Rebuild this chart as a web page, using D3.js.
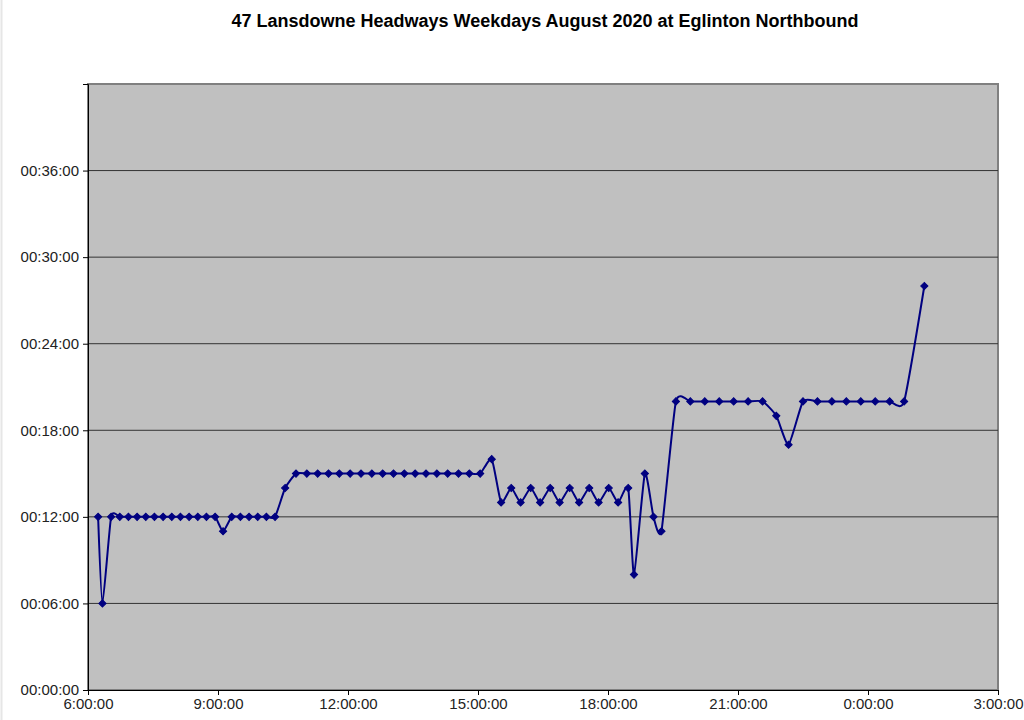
<!DOCTYPE html>
<html>
<head>
<meta charset="utf-8">
<script src="https://cdn.jsdelivr.net/npm/d3@7"></script>
<style>
  html, body { margin: 0; padding: 0; background: #fff; }
  svg { display: block; }
</style>
</head>
<body>
<svg id="chart" width="1024" height="720"></svg>
<script>
// ---- data ----
const chartTitle = "47 Lansdowne Headways Weekdays August 2020 at Eglinton Northbound";

const departureTimes = [
  "6:14","6:20","6:32","6:44","6:56","7:08","7:20","7:32","7:44","7:56","8:08","8:20","8:32","8:44","8:56",
  "9:07","9:19","9:31","9:43","9:55","10:07","10:19","10:33",
  "10:48","11:03","11:18","11:33","11:48","12:03","12:18","12:33","12:48","13:03","13:18","13:33","13:48",
  "14:03","14:18","14:33","14:48","15:03","15:19",
  "15:32","15:46","15:59","16:13","16:26","16:40","16:53","17:07","17:20","17:34","17:47","18:01","18:14","18:28",
  "18:36","18:51","19:03","19:14",
  "19:34","19:54","20:14","20:34","20:54","21:14","21:34","21:53","22:10",
  "22:30","22:50","23:10","23:30","23:50","0:10","0:30","0:50","1:18"
];

const headwayMinutes = [
  12,6,12,12,12,12,12,12,12,12,12,12,12,12,12,
  11,12,12,12,12,12,12,14,
  15,15,15,15,15,15,15,15,15,15,15,15,15,
  15,15,15,15,15,16,
  13,14,13,14,13,14,13,14,13,14,13,14,13,14,
  8,15,12,11,
  20,20,20,20,20,20,20,19,17,
  20,20,20,20,20,20,20,20,28
];

const xTickMinutes = [360, 540, 720, 900, 1080, 1260, 1440, 1620];
const xTickLabels = ["6:00:00","9:00:00","12:00:00","15:00:00","18:00:00","21:00:00","0:00:00","3:00:00"];
const yTickMinutes = [0, 6, 12, 18, 24, 30, 36];
const yTickLabels = ["00:00:00","00:06:00","00:12:00","00:18:00","00:24:00","00:30:00","00:36:00"];

// ---- helpers ----
function toMinutes(t) {
  const [h, m] = t.split(":").map(Number);
  return (h < 6 ? h + 24 : h) * 60 + m;
}
const points = departureTimes.map((t, i) => ({ x: toMinutes(t), y: headwayMinutes[i] }));

// ---- layout ----
const svg = d3.select("#chart");
const plot = { left: 88, right: 998, top: 84, bottom: 690 };
const font = "Liberation Sans, Arial, sans-serif";

const x = d3.scaleLinear().domain([360, 1620]).range([plot.left, plot.right]);
const y = d3.scaleLinear().domain([0, 42]).range([plot.bottom, plot.top]);

// faint outer chart border
svg.append("line").attr("x1", 1.5).attr("x2", 1.5).attr("y1", 0).attr("y2", 720)
  .attr("stroke", "#e6e6e6").attr("stroke-width", 2);

// title
svg.append("text")
  .attr("x", 545).attr("y", 27)
  .attr("text-anchor", "middle")
  .attr("font-family", font)
  .attr("font-weight", "bold")
  .attr("font-size", 18)
  .attr("fill", "#000")
  .text(chartTitle);

// plot background
svg.append("rect")
  .attr("x", plot.left).attr("y", plot.top)
  .attr("width", plot.right - plot.left).attr("height", plot.bottom - plot.top)
  .attr("fill", "#c0c0c0")
  .attr("stroke", "#808080").attr("stroke-width", 2);

// gridlines
svg.append("g")
  .selectAll("line")
  .data(yTickMinutes.filter(v => v > 0))
  .join("line")
  .attr("x1", plot.left).attr("x2", plot.right)
  .attr("y1", d => y(d)).attr("y2", d => y(d))
  .attr("stroke", "#333").attr("stroke-width", 1);

// axes
const yAxis = d3.axisLeft(y)
  .tickValues(yTickMinutes)
  .tickFormat((d, i) => yTickLabels[i])
  .tickSize(5).tickPadding(4);
const yg = svg.append("g").attr("transform", `translate(${plot.left},0)`).call(yAxis);
yg.select(".domain").attr("stroke", "#000");
yg.selectAll(".tick line").attr("stroke", "#000");
yg.selectAll("text")
  .attr("font-family", font)
  .attr("font-size", 15).attr("fill", "#222");

const xAxis = d3.axisBottom(x)
  .tickValues(xTickMinutes)
  .tickFormat((d, i) => xTickLabels[i])
  .tickSize(5).tickPadding(3);
const xg = svg.append("g").attr("transform", `translate(0,${plot.bottom})`).call(xAxis);
xg.select(".domain").attr("stroke", "#000");
xg.selectAll(".tick line").attr("stroke", "#000");
xg.selectAll("text")
  .attr("font-family", font)
  .attr("font-size", 15).attr("fill", "#222");

// line (smoothed, like a spreadsheet "smoothed line")
const line = d3.line()
  .x(d => x(d.x)).y(d => y(d.y))
  .curve(d3.curveCardinal.tension(0.45));

svg.append("path")
  .datum(points)
  .attr("d", line)
  .attr("fill", "none")
  .attr("stroke", "#000080")
  .attr("stroke-width", 2);

// diamond markers
svg.append("g")
  .selectAll("path")
  .data(points)
  .join("path")
  .attr("d", d3.symbol().type(d3.symbolSquare).size(26))
  .attr("transform", d => `translate(${x(d.x)},${y(d.y)}) rotate(45)`)
  .attr("fill", "#000080")
  .attr("stroke", "#000080")
  .attr("stroke-width", 1);
</script>
</body>
</html>
